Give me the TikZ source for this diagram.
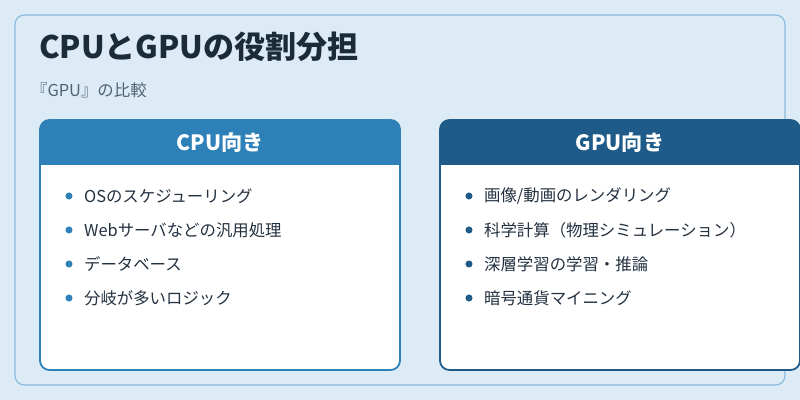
\documentclass[tikz,border=0pt]{standalone}
\usepackage{fontspec}
\setmainfont{Noto Sans CJK JP}
\definecolor{bgblue}{HTML}{DCEBF6}
\definecolor{frameblue}{HTML}{8DBBDB}
\definecolor{titlecol}{HTML}{1B2B3A}
\definecolor{subcol}{HTML}{4F6577}
\definecolor{cpublue}{HTML}{2E80B9}
\definecolor{gpublue}{HTML}{1E5B88}
\definecolor{itemcol}{HTML}{233140}
\begin{document}
\begin{tikzpicture}[
        x=0.03cm, y=-0.03cm,
        % 共通スタイル
        card/.style={draw=#1, line width=1.5pt, fill=white, rounded corners=8pt},
        head/.style={fill=#1, rounded corners=8pt},
        head text/.style={text=white, font=\fontsize{18}{22}\selectfont\bfseries},
        item/.style={anchor=west, text=itemcol, font=\fontsize{14}{17}\selectfont},
        dot/.style={circle, fill=#1, inner sep=0pt, minimum size=6pt}
    ]
    % 背景と枠
    \fill[bgblue] (0,0) rectangle (800,400);
    \useasboundingbox (0,0) rectangle (800,400);
    \draw[frameblue, line width=1pt, rounded corners=8pt] (15,15) rectangle (785,385);

    % タイトル
    \node[anchor=west, text=titlecol, font=\fontsize{26.5}{32}\selectfont\bfseries] (title) at (35,47) {CPUとGPUの役割分担};
    \node[anchor=west, text=subcol, font=\fontsize{14}{17}\selectfont] (subtitle) at (27,90) {『GPU』の比較};

    % --- 左カード: CPU ---
    \draw[card=cpublue] (40,120) rectangle (400,370);
    \fill[head=cpublue] (40,120) rectangle (400,165);
    \fill[cpublue] (41,150) rectangle (399,165);
    \node[head text] (cpuhead) at (220,143) {CPU向き};
    \foreach \t [count=\i] in {OSのスケジューリング, Webサーバなどの汎用処理, データベース, 分岐が多いロジック} {
        \node[dot=cpublue] (cpudot\i) at (69,162+34*\i) {};
        \node[item] (cpuitem\i) at (80,162+34*\i) {\t};
    }

    % --- 右カード: GPU ---
    \draw[card=gpublue] (440,120) rectangle (800,370);
    \fill[head=gpublue] (440,120) rectangle (800,165);
    \fill[gpublue] (441,150) rectangle (799,165);
    \node[head text] (gpuhead) at (620,143) {GPU向き};
    \foreach \t [count=\i] in {画像/動画のレンダリング, 科学計算（物理シミュレーション）, 深層学習の学習・推論, 暗号通貨マイニング} {
        \node[dot=gpublue] (gpudot\i) at (469,162+34*\i) {};
        \node[item] (gpuitem\i) at (480,162+34*\i) {\t};
    }
\end{tikzpicture}
\end{document}
